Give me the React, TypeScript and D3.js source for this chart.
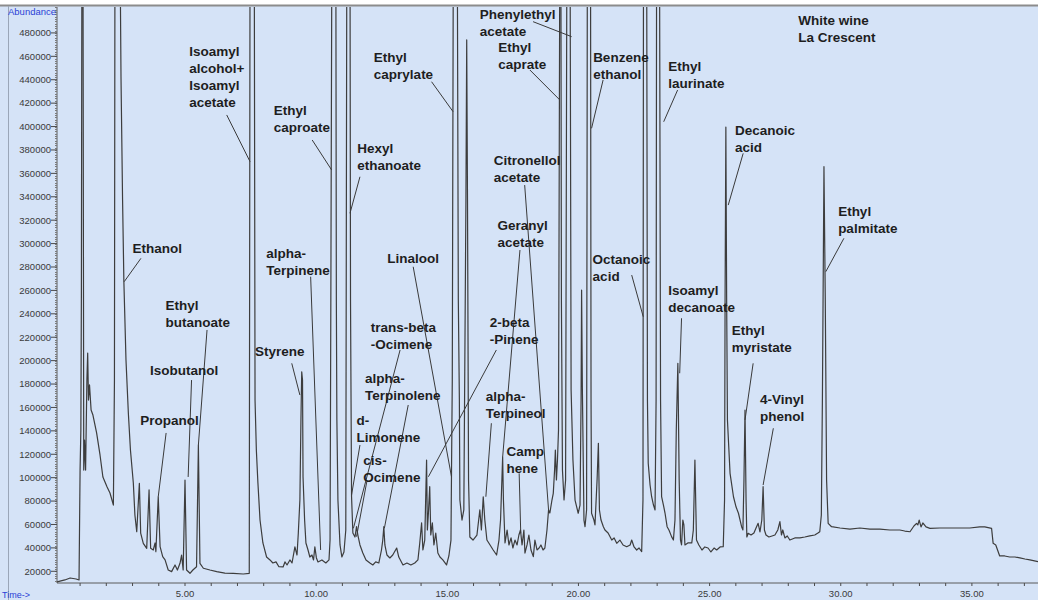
import React, { useEffect, useRef } from 'react';
import * as d3 from 'd3';

const W = 1038;
const H = 600;
const OFF = 560000; // off-scale peaks, cut at the top of the frame

// total ion chromatogram (min, counts)
const retentionTime = [
  0.12, 0.42, 0.62, 0.85, 0.96, 1.0, 1.03, 1.05, 1.07, 1.11, 1.14, 1.17, 1.21, 1.26, 1.29, 1.32, 1.36, 1.42, 1.49, 1.63,
  1.76, 1.87, 2.03, 2.14, 2.27, 2.31, 2.33, 2.52, 2.56, 2.62, 2.67, 2.75, 2.84, 2.92, 3.03, 3.09, 3.16, 3.26, 3.31, 3.41,
  3.54, 3.63, 3.69, 3.79, 3.86, 3.89, 3.98, 4.05, 4.15, 4.24, 4.36, 4.49, 4.62, 4.71, 4.81, 4.87, 4.93, 5.0, 5.06, 5.19,
  5.3, 5.44, 5.51, 5.57, 5.7, 5.95, 6.21, 6.52, 6.84, 7.22, 7.45, 7.48, 7.64, 7.67, 7.72, 7.78, 7.86, 7.97, 8.11, 8.24,
  8.35, 8.47, 8.58, 8.74, 8.81, 8.89, 9.0, 9.08, 9.19, 9.27, 9.32, 9.38, 9.42, 9.45, 9.48, 9.5, 9.56, 9.61, 9.69, 9.76,
  9.84, 9.9, 9.95, 10.01, 10.07, 10.22, 10.37, 10.49, 10.53, 10.56, 10.6, 10.75, 10.77, 10.79, 10.83, 10.91, 10.98, 11.06, 11.13, 11.17,
  11.29, 11.31, 11.35, 11.4, 11.48, 11.54, 11.59, 11.67, 11.78, 11.9, 12.05, 12.16, 12.27, 12.39, 12.49, 12.54, 12.58, 12.62, 12.7, 12.81,
  12.92, 13.07, 13.15, 13.31, 13.46, 13.61, 13.76, 13.88, 13.95, 14.02, 14.07, 14.14, 14.21, 14.24, 14.28, 14.33, 14.37, 14.43, 14.49, 14.56,
  14.64, 14.72, 14.83, 14.97, 15.06, 15.14, 15.16, 15.19, 15.23, 15.38, 15.42, 15.46, 15.48, 15.56, 15.63, 15.71, 15.74, 15.77, 15.81, 15.86,
  15.98, 16.13, 16.24, 16.3, 16.37, 16.43, 16.51, 16.63, 16.75, 16.88, 16.97, 17.03, 17.11, 17.14, 17.2, 17.28, 17.35, 17.43, 17.5, 17.58,
  17.66, 17.73, 17.79, 17.85, 17.92, 17.96, 18.04, 18.11, 18.19, 18.28, 18.34, 18.42, 18.5, 18.57, 18.65, 18.72, 18.8, 18.86, 18.91, 18.99,
  19.04, 19.09, 19.12, 19.16, 19.2, 19.24, 19.29, 19.33, 19.35, 19.39, 19.45, 19.51, 19.56, 19.68, 19.72, 19.79, 19.87, 19.99, 20.06, 20.1,
  20.12, 20.15, 20.21, 20.25, 20.31, 20.34, 20.46, 20.48, 20.5, 20.59, 20.63, 20.71, 20.76, 20.8, 20.86, 20.95, 21.01, 21.13, 21.27, 21.36,
  21.46, 21.58, 21.7, 21.84, 21.97, 22.03, 22.12, 22.22, 22.31, 22.41, 22.46, 22.48, 22.6, 22.63, 22.66, 22.73, 22.79, 22.86, 22.92, 22.96,
  22.98, 23.09, 23.13, 23.17, 23.24, 23.3, 23.38, 23.45, 23.55, 23.62, 23.68, 23.73, 23.79, 23.84, 23.89, 23.93, 23.98, 24.02, 24.06, 24.17,
  24.32, 24.38, 24.44, 24.5, 24.59, 24.71, 24.82, 24.94, 25.05, 25.17, 25.27, 25.4, 25.52, 25.57, 25.59, 25.62, 25.65, 25.68, 25.78, 25.91,
  26.01, 26.1, 26.22, 26.27, 26.31, 26.35, 26.39, 26.42, 26.47, 26.58, 26.69, 26.77, 26.85, 26.92, 26.99, 27.04, 27.09, 27.15, 27.26, 27.38,
  27.49, 27.6, 27.68, 27.74, 27.79, 27.87, 27.96, 28.06, 28.25, 28.44, 28.63, 28.82, 29.01, 29.13, 29.2, 29.26, 29.3, 29.36, 29.41, 29.46,
  29.52, 29.65, 29.97, 30.35, 30.73, 31.11, 31.49, 31.87, 32.25, 32.44, 32.64, 32.79, 32.89, 32.94, 32.99, 33.06, 33.13, 33.25, 33.4, 33.78,
  34.16, 34.54, 34.92, 35.3, 35.49, 35.75, 35.81, 35.91, 36.06, 36.25, 36.44, 36.64, 36.83, 37.02, 37.21, 37.52,
];

const abundance = [
  11000, 12600, 14300, 13400, 12600, 106500, 140700, 257800, OFF, OFF, 106500, 132200, 106500, 183400, 206500, 166300, 179200, 157800, 153500, 138200,
  119400, 100600, 92000, 86900, 76600, 183400, OFF, OFF, 442300, 337200, 267200, 200500, 155200, 123600, 95400, 68100, 53800, 95200, 52700, 43900,
  39600, 89500, 39600, 38200, 44200, 36800, 83700, 41000, 32500, 29700, 21100, 19700, 25400, 21100, 26800, 33900, 21100, 98000, 21100, 18300,
  21100, 23900, 127900, 26800, 22600, 21100, 19700, 18500, 18300, 17700, 18300, OFF, OFF, 166300, 123600, 95400, 63800, 44200, 32200, 29700,
  27100, 28000, 23900, 23700, 28000, 25400, 29700, 27100, 40800, 33900, 52700, 80900, 149300, 190500, 183400, 100600, 63800, 44200, 38200, 32200,
  33900, 29700, 40800, 31400, 28000, 29700, 27100, 29700, 46700, 251800, OFF, OFF, 251800, 149300, 80900, 42500, 32200, 36500, 55300, OFF,
  OFF, 251800, 83700, 52700, 49300, 58100, 51000, 42500, 35600, 29700, 27100, 25400, 28000, 27100, 38200, 46700, 58100, 42500, 33900, 31400,
  33900, 39900, 32200, 25400, 27100, 25400, 27100, 29700, 44200, 61300, 38200, 46700, 115100, 55300, 69800, 92300, 51000, 61300, 42500, 52700,
  35600, 32200, 29700, 25400, 33100, 46700, 103700, 183400, OFF, OFF, 251800, 166300, 80900, 63800, 72400, 337200, 474000, 337200, 98000, 49300,
  46700, 51000, 72400, 55300, 83700, 63800, 46700, 42500, 38200, 33900, 46700, 63800, 117600, 80900, 44200, 55300, 42500, 48500, 39900, 46700,
  42500, 51000, 55300, 42500, 55300, 35600, 42500, 51000, 38200, 32500, 46700, 38200, 39900, 42500, 38200, 39900, 55300, 72400, 69800, 80900,
  86600, 106500, 123600, 98000, 115100, 140700, OFF, OFF, 251800, 106500, 80900, 98000, OFF, OFF, 174900, 115100, 80900, 69600, 76600, 166300,
  260300, 174900, 63800, 58100, 72400, OFF, OFF, 166300, 69600, 63800, 59600, 98000, 129400, 72400, 63800, 58100, 55300, 52700, 46700, 48500,
  43900, 46700, 42500, 41000, 42500, 46700, 40800, 38200, 39900, 36800, 80900, OFF, OFF, 166300, 112300, 93700, 83700, 76600, 72400, 166300,
  OFF, OFF, 166300, 83700, 76600, 69800, 58100, 55300, 49600, 46700, 63800, 140700, 197700, 98000, 46700, 42500, 63800, 59600, 42500, 44200,
  44200, 55300, 115100, 46700, 42500, 38200, 40800, 39900, 36500, 39900, 38200, 40800, 41000, 80900, 251800, 399600, 251800, 149300, 103700, 83700,
  74900, 69600, 58100, 55300, 98000, 157800, 80900, 49300, 52500, 51000, 52700, 57000, 61000, 53600, 63800, 92300, 55300, 51000, 49300, 50200,
  51000, 55300, 62400, 51000, 55300, 48500, 50200, 46700, 48500, 48500, 49300, 50200, 51000, 52700, 53800, 68100, 166300, 365700, 251800, 98000,
  61000, 58100, 57000, 56100, 57000, 56100, 56100, 55300, 55300, 54400, 53800, 58700, 61000, 59600, 63800, 57900, 61300, 57900, 56700, 57000,
  57000, 57000, 57000, 57900, 57900, 56700, 43900, 42500, 33100, 33100, 32200, 32200, 31400, 30500, 29700, 28200,
];

const yTicks = d3.range(20000, 480001, 20000);
const yMinorTicks = d3.range(12000, 502001, 2000);
const xTicks = [5, 10, 15, 20, 25, 30, 35];
const xMinorTicks = d3.range(1, 38, 1);

// compound labels: text, label position (first line), leader line from/to
const peakLabels = [
  'Ethanol', 'Ethyl\nbutanoate', 'Isobutanol', 'Propanol', 'Isoamyl\nalcohol+\nIsoamyl\nacetate',
  'Ethyl\ncaproate', 'alpha-\nTerpinene', 'Styrene', 'Hexyl\nethanoate', 'Ethyl\ncaprylate',
  'Linalool', 'trans-beta\n-Ocimene', 'alpha-\nTerpinolene', 'd-\nLimonene', 'cis-\nOcimene',
  'Phenylethyl\nacetate', 'Ethyl\ncaprate', 'Citronellol\nacetate', 'Geranyl\nacetate', '2-beta\n-Pinene',
  'alpha-\nTerpineol', 'Camp\nhene', 'Benzene\nethanol', 'Octanoic\nacid', 'Ethyl\nlaurinate',
  'Decanoic\nacid', 'Isoamyl\ndecanoate', 'Ethyl\nmyristate', '4-Vinyl\nphenol', 'Ethyl\npalmitate',
];
const labelTime = [
  3.0, 4.26, 3.67, 3.29, 5.16, 8.38, 8.1, 7.67, 11.57, 12.2,
  12.71, 12.08, 11.86, 11.54, 11.8, 16.24, 16.94, 16.77, 16.91, 16.62,
  16.47, 17.26, 20.56, 20.54, 23.42, 25.97, 23.42, 25.84, 26.92, 29.9,
];
const labelAbund = [
  296000, 247500, 192000, 149300, 463900, 414100, 291700, 207600, 381400, 459100,
  287400, 228900, 184900, 149300, 115100, 496200, 467700, 371400, 315900, 232400,
  169200, 122200, 459100, 286600, 451100, 397000, 260300, 226200, 167200, 327200,
];
const leaderFromTime = [
  3.32, 5.84, 5.25, 4.28, 6.59, 9.85, 9.79, 9.07, 11.67, 14.4,
  13.7, 13.2, 13.51, 11.67, 11.93, 18.27, 18.15, 17.95, 17.77, 16.87,
  16.68, 17.74, 20.94, 22.03, 23.78, 26.28, 23.93, 26.66, 27.43, 30.12,
];
const leaderFromAbund = [
  287400, 226200, 183400, 138200, 409900, 388500, 271700, 197700, 357100, 438300,
  280200, 209100, 162100, 127900, 96500, 489600, 448300, 350000, 294500, 209100,
  146500, 103700, 439800, 273100, 431200, 377100, 236200, 197700, 142200, 304500,
];
const leaderToTime = [
  2.68, 5.51, 5.12, 3.98, 7.48, 10.59, 10.17, 9.38, 11.29, 15.22,
  15.16, 11.42, 12.6, 11.35, 11.54, 19.74, 19.29, 18.86, 17.11, 14.28,
  16.47, 17.8, 20.5, 22.47, 23.25, 25.71, 23.86, 26.35, 27.04, 29.43,
];
const leaderToAbund = [
  267400, 127900, 100600, 83700, 370000, 362900, 38200, 170600, 325900, 412700,
  100800, 56700, 56700, 85200, 49600, 476800, 422700, 72400, 117600, 100800,
  83700, 52500, 398500, 237500, 404100, 332900, 189200, 149300, 93700, 276000,
];

const sampleTitle = ['White wine', 'La Crescent'];
const titleTime = 28.38;
const titleAbund = 490400;

const BG = '#d5e3f7';
const FONT = 'Arial, "Liberation Sans", sans-serif';

const App = () => {
  const ref = useRef<SVGSVGElement>(null);

  useEffect(() => {
    const svg = d3.select(ref.current);
    svg.selectAll('*').remove();

    const left = 57;
    const right = W;
    const top = 6;
    const bottom = 583;

    const x = d3.scaleLinear().domain([0.12, 37.52]).range([left, right]);
    const y = d3.scaleLinear().domain([10000, 503000]).range([bottom, top]);

    svg.append('rect').attr('width', W).attr('height', H).attr('fill', BG);
    svg.append('rect').attr('width', W).attr('height', 5).attr('fill', '#ffffff');
    svg.append('line')
      .attr('x1', 0).attr('x2', W).attr('y1', 5.5).attr('y2', 5.5)
      .attr('stroke', '#8c8c8c').attr('stroke-width', 2);
    svg.append('line')
      .attr('x1', 8.5).attr('x2', 8.5).attr('y1', 6).attr('y2', H)
      .attr('stroke', '#9aa6b8').attr('stroke-width', 1);

    svg.append('clipPath').attr('id', 'plot-clip')
      .append('rect')
      .attr('x', left).attr('y', top + 1)
      .attr('width', right - left).attr('height', bottom - top - 1);

    // y axis
    const gy = svg.append('g');
    gy.append('line')
      .attr('x1', left).attr('x2', left).attr('y1', top + 1).attr('y2', bottom)
      .attr('stroke', '#5a5a5a').attr('stroke-width', 1);
    gy.selectAll('.ymin')
      .data(yMinorTicks)
      .join('line')
      .attr('class', 'ymin')
      .attr('x1', left - 2).attr('x2', left)
      .attr('y1', d => Math.round(y(d)) + 0.5).attr('y2', d => Math.round(y(d)) + 0.5)
      .attr('stroke', '#7a7a7a').attr('stroke-width', 1);
    gy.selectAll('.ymaj')
      .data(yTicks)
      .join('line')
      .attr('class', 'ymaj')
      .attr('x1', left - 6).attr('x2', left)
      .attr('y1', d => y(d)).attr('y2', d => y(d))
      .attr('stroke', '#4a4a4a').attr('stroke-width', 1);
    gy.selectAll('.ylab')
      .data(yTicks)
      .join('text')
      .attr('class', 'ylab')
      .attr('x', left - 6)
      .attr('y', d => y(d))
      .attr('dy', '0.35em')
      .attr('text-anchor', 'end')
      .attr('font-family', FONT)
      .attr('font-size', 9.5)
      .attr('fill', '#3a3a3a')
      .text(d => d);
    svg.append('text')
      .attr('x', 8).attr('y', 15)
      .attr('font-family', FONT).attr('font-size', 9)
      .attr('fill', '#2a3fd6')
      .attr('textLength', 48).attr('lengthAdjust', 'spacingAndGlyphs')
      .text('Abundance');

    // x axis
    const gx = svg.append('g');
    gx.append('line')
      .attr('x1', left).attr('x2', right).attr('y1', bottom).attr('y2', bottom)
      .attr('stroke', '#5a5a5a').attr('stroke-width', 1);
    gx.selectAll('.xmin')
      .data(xMinorTicks)
      .join('line')
      .attr('class', 'xmin')
      .attr('x1', d => x(d)).attr('x2', d => x(d))
      .attr('y1', bottom).attr('y2', bottom + 3)
      .attr('stroke', '#4a4a4a').attr('stroke-width', 1);
    gx.selectAll('.xlab')
      .data(xTicks)
      .join('text')
      .attr('class', 'xlab')
      .attr('x', d => x(d))
      .attr('y', 597)
      .attr('text-anchor', 'middle')
      .attr('font-family', FONT)
      .attr('font-size', 9.5)
      .attr('fill', '#3a3a3a')
      .text(d => d3.format('.2f')(d));
    svg.append('text')
      .attr('x', 2).attr('y', 598)
      .attr('font-family', FONT).attr('font-size', 9)
      .attr('fill', '#2a3fd6')
      .text('Time->');

    // chromatogram trace
    const points = retentionTime.map((t, i) => [t, abundance[i]] as [number, number]);
    const line = d3.line<[number, number]>().x(d => x(d[0])).y(d => y(d[1]));
    svg.append('path')
      .datum(points)
      .attr('clip-path', 'url(#plot-clip)')
      .attr('d', line)
      .attr('fill', 'none')
      .attr('stroke', '#3d3d3d')
      .attr('stroke-width', 1.2)
      .attr('stroke-linejoin', 'round');

    // leader lines
    svg.selectAll('.leader')
      .data(peakLabels)
      .join('line')
      .attr('class', 'leader')
      .attr('x1', (d, i) => x(leaderFromTime[i]))
      .attr('y1', (d, i) => y(leaderFromAbund[i]))
      .attr('x2', (d, i) => x(leaderToTime[i]))
      .attr('y2', (d, i) => y(leaderToAbund[i]))
      .attr('stroke', '#3a3a3a')
      .attr('stroke-width', 1);

    const lineGap = 17;
    const labels = svg.selectAll('.peak-label')
      .data(peakLabels)
      .join('text')
      .attr('class', 'peak-label')
      .attr('font-family', FONT)
      .attr('font-size', 13.5)
      .attr('font-weight', 'bold')
      .attr('fill', '#1e1e1e');
    labels.each(function (d, i) {
      const t = d3.select(this);
      d.split('\n').forEach((s, k) => {
        t.append('tspan')
          .attr('x', x(labelTime[i]))
          .attr('y', y(labelAbund[i]) + k * lineGap)
          .attr('dy', '0.35em')
          .text(s);
      });
    });

    const title = svg.append('text')
      .attr('font-family', FONT)
      .attr('font-size', 13.5)
      .attr('font-weight', 'bold')
      .attr('fill', '#1e1e1e');
    sampleTitle.forEach((s, k) => {
      title.append('tspan')
        .attr('x', x(titleTime))
        .attr('y', y(titleAbund) + k * lineGap)
        .attr('dy', '0.35em')
        .text(s);
    });
  }, []);

  return (
    <svg
      ref={ref}
      width={W}
      height={H}
      style={{ position: 'absolute', left: 0, top: 0, display: 'block' }}
    />
  );
};

export default App;
